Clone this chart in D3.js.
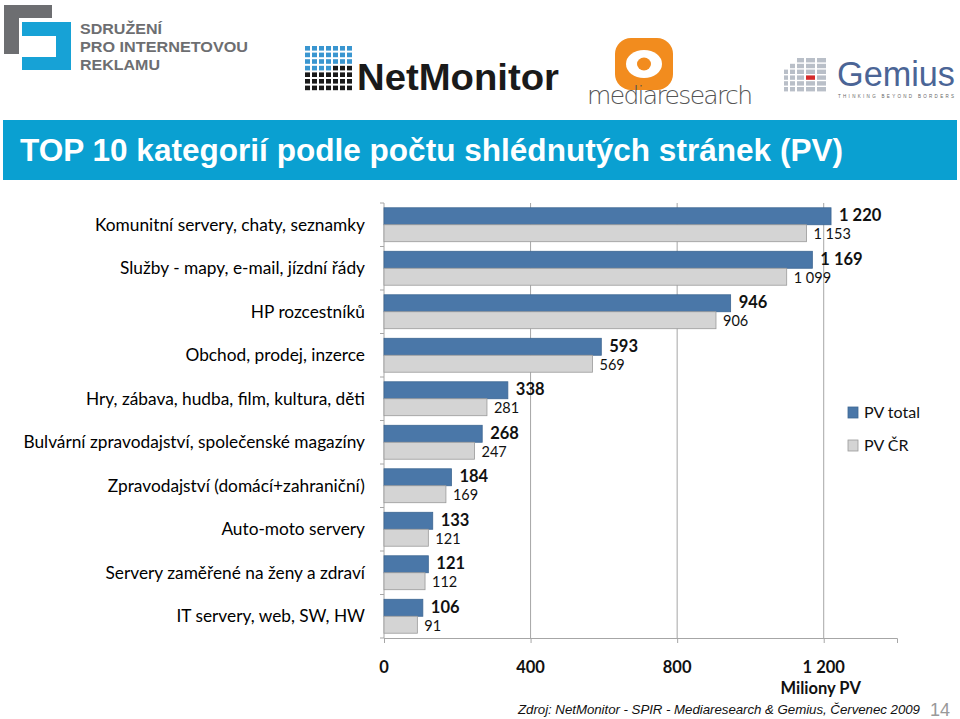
<!DOCTYPE html>
<html><head><meta charset="utf-8">
<script src="https://cdn.jsdelivr.net/npm/d3@7/dist/d3.min.js"></script>
<style>body{margin:0;background:#fff}svg{display:block}</style>
</head><body><svg id="c" width="960" height="719"></svg>
<script>
const categories = ["Komunitní servery, chaty, seznamky","Služby - mapy, e-mail, jízdní řády","HP rozcestníků","Obchod, prodej, inzerce","Hry, zábava, hudba, film, kultura, děti","Bulvární zpravodajství, společenské magazíny","Zpravodajství (domácí+zahraniční)","Auto-moto servery","Servery zaměřené na ženy a zdraví","IT servery, web, SW, HW"];
const pvTotal = [1220,1169,946,593,338,268,184,133,121,106];
const pvCR = [1153,1099,906,569,281,247,169,121,112,91];
const seriesNames = ["PV total","PV ČR"];
const tickValues = [0,400,800,1200];
const title = "TOP 10 kategorií podle počtu shlédnutých stránek (PV)";
const axisTitle = "Miliony PV";
const source = "Zdroj: NetMonitor - SPIR - Mediaresearch & Gemius, Červenec 2009";
const pageNo = "14";

const svg = d3.select("#c");
const fmt = d3.formatLocale({decimal:",",thousands:"\u00a0",grouping:[3],currency:["",""]}).format(",d");
const catFont = "Lato, 'Open Sans', sans-serif";

// ---------- logos ----------
const lg = svg.append("g");
// SPIR
lg.append("path").attr("d","M4,5 H52 V18 H19 V54 H4 Z").attr("fill","#6d6e71");
lg.append("path").attr("d","M22,22 H71 V70 H22 V57 H56 V36 H22 Z").attr("fill","#17a2d6");
[["SDRUŽENÍ",82],["PRO INTERNETOVOU",168],["REKLAMU",80]].forEach(([t,w],i)=>{
  lg.append("text").attr("x",80).attr("y",34+i*18.2).text(t)
    .attr("font-family","'Liberation Sans',Arial,sans-serif").attr("font-weight",700).attr("font-size",15.5)
    .attr("fill","#6d6e71").attr("textLength",w).attr("lengthAdjust","spacingAndGlyphs");
});
// NetMonitor grid
for(let r=0;r<7;r++)for(let c=0;c<7;c++){
  const blue = (r<3)||(r===3&&c<4);
  lg.append("rect").attr("x",305+c*7).attr("y",46+r*6.6).attr("width",5).attr("height",4.6)
    .attr("fill",blue?"#3a96d0":"#1a1a1a");
}
lg.append("text").attr("x",357).attr("y",90).text("NetMonitor")
  .attr("font-family","'Liberation Sans',Arial,sans-serif").attr("font-weight",700).attr("font-size",37)
  .attr("fill","#1a1a1a").attr("textLength",202).attr("lengthAdjust","spacingAndGlyphs");
// mediaresearch
lg.append("rect").attr("x",615).attr("y",38).attr("width",58).attr("height",52).attr("rx",16).attr("fill","#f28c1e");
lg.append("ellipse").attr("cx",644).attr("cy",64).attr("rx",18).attr("ry",14).attr("fill","#fff");
lg.append("ellipse").attr("cx",644).attr("cy",64).attr("rx",7).attr("ry",6.5).attr("fill","#f28c1e");
lg.append("text").attr("x",587).attr("y",104).text("mediaresearch")
  .attr("font-family","'DejaVu Sans',sans-serif").attr("font-weight",300).attr("font-size",25)
  .attr("fill","#555").attr("textLength",166);
// Gemius
for(let c=0;c<5;c++)for(let r=0;r<6;r++){
  if(r < [2,1,0,0,0][c]) continue;
  const w = [4,5,7,9,9][c];
  lg.append("rect").attr("x",784+[0,6,13,22,33][c]).attr("y",58+r*5.8).attr("width",w).attr("height",4.4)
    .attr("fill",(c===3&&r===3)?"#d52b2b":"#b9bfc8");
}
lg.append("text").attr("x",837).attr("y",86).text("Gemius")
  .attr("font-family","'Liberation Sans',Arial,sans-serif").attr("font-size",35).attr("fill","#4b6596")
  .attr("textLength",118).attr("lengthAdjust","spacingAndGlyphs");
lg.append("text").attr("x",838).attr("y",98).text("THINKING BEYOND BORDERS")
  .attr("font-family","'Liberation Sans',Arial,sans-serif").attr("font-size",4.5).attr("fill","#666")
  .attr("textLength",116);

// ---------- title bar ----------
svg.append("rect").attr("x",3).attr("y",120).attr("width",954).attr("height",60).attr("fill","#0aa0d1");
svg.append("text").attr("x",20).attr("y",161).text(title)
  .attr("font-family","'Liberation Sans Narrow','Liberation Sans',Arial,sans-serif").attr("font-weight",700)
  .attr("font-size",31).attr("fill","#fff")
  .attr("textLength",823).attr("lengthAdjust","spacingAndGlyphs");

// ---------- chart ----------
const x0=384, x1=897, y0=203, y1=638;
const x = d3.scaleLinear().domain([0,1400]).range([x0,x1]);
const y = d3.scaleBand().domain(categories).range([y0,y1]).paddingInner(0.22).paddingOuter(0.11);
const ys = d3.scaleBand().domain(seriesNames).range([0,y.bandwidth()]);

const g = svg.append("g");
g.selectAll("line.grid").data(tickValues.slice(1)).join("line")
  .attr("x1",d=>x(d)).attr("x2",d=>x(d)).attr("y1",y0).attr("y2",y1)
  .attr("stroke","#a6a6a6").attr("stroke-width",1);

const xa = g.append("g").attr("transform",`translate(0,${y1})`)
  .call(d3.axisBottom(x).tickValues(tickValues).tickSize(5).tickFormat(""));
xa.select(".domain").attr("stroke","#a6a6a6");
xa.selectAll(".tick line").attr("stroke","#a6a6a6");
g.selectAll("text.xt").data(tickValues).join("text")
  .attr("x",d=>x(d)).attr("y",673).attr("text-anchor","middle").text(d=>fmt(d))
  .attr("font-family",catFont).attr("font-weight",700).attr("font-size",16.5).attr("fill","#111");
g.append("text").attr("x",x(1200)-3).attr("y",694).attr("text-anchor","middle").text(axisTitle)
  .attr("font-family",catFont).attr("font-weight",700).attr("font-size",16.5).attr("fill","#111");

g.append("line").attr("x1",x0).attr("x2",x0).attr("y1",y0).attr("y2",y1).attr("stroke","#a6a6a6");
const step = (y1-y0)/categories.length;
g.selectAll("line.yt").data(d3.range(categories.length+1)).join("line")
  .attr("x1",x0-4).attr("x2",x0).attr("y1",i=>y0+i*step).attr("y2",i=>y0+i*step).attr("stroke","#a6a6a6");
g.selectAll("text.cat").data(categories).join("text")
  .attr("x",365).attr("y",d=>y(d)+y.bandwidth()/2+6).attr("text-anchor","end").text(d=>d)
  .attr("font-family",catFont).attr("font-size",17.3).attr("fill","#000");

const data = categories.map((c,i)=>({c, v:[pvTotal[i],pvCR[i]]}));
const colors = ["#4a77a8","#d4d4d4"], strokes = ["#3d6692","#9a9a9a"];
seriesNames.forEach((s,si)=>{
  g.selectAll(`rect.s${si}`).data(data).join("rect")
    .attr("x",x(0)).attr("y",d=>y(d.c)+ys(s))
    .attr("width",d=>x(d.v[si])-x(0)).attr("height",ys.bandwidth())
    .attr("fill",colors[si]).attr("stroke",strokes[si]).attr("stroke-width",0.8);
  g.selectAll(`text.l${si}`).data(data).join("text")
    .attr("x",d=>x(d.v[si])+(si===0?8:7)).attr("y",d=>y(d.c)+ys(s)+ys.bandwidth()/2+(si===0?5:6))
    .text(d=>fmt(d.v[si]))
    .attr("font-family",catFont).attr("font-weight",si===0?700:400).attr("font-size",si===0?16.5:14.5)
    .attr("fill","#111");
});

seriesNames.forEach((s,i)=>{
  svg.append("rect").attr("x",848).attr("y",407+i*33).attr("width",10).attr("height",11)
    .attr("fill",colors[i]).attr("stroke",strokes[i]).attr("stroke-width",0.8);
  svg.append("text").attr("x",864).attr("y",418+i*33).text(s)
    .attr("font-family",catFont).attr("font-size",16).attr("fill","#111");
});

svg.append("text").attr("x",518).attr("y",714).text(source)
  .attr("font-family","'Liberation Sans',Arial,sans-serif").attr("font-style","italic").attr("font-size",13.3).attr("fill","#111")
  .attr("textLength",402);
svg.append("text").attr("x",930).attr("y",716).text(pageNo)
  .attr("font-family","'Liberation Sans',Arial,sans-serif").attr("font-size",18).attr("fill","#999");
</script></body></html>
